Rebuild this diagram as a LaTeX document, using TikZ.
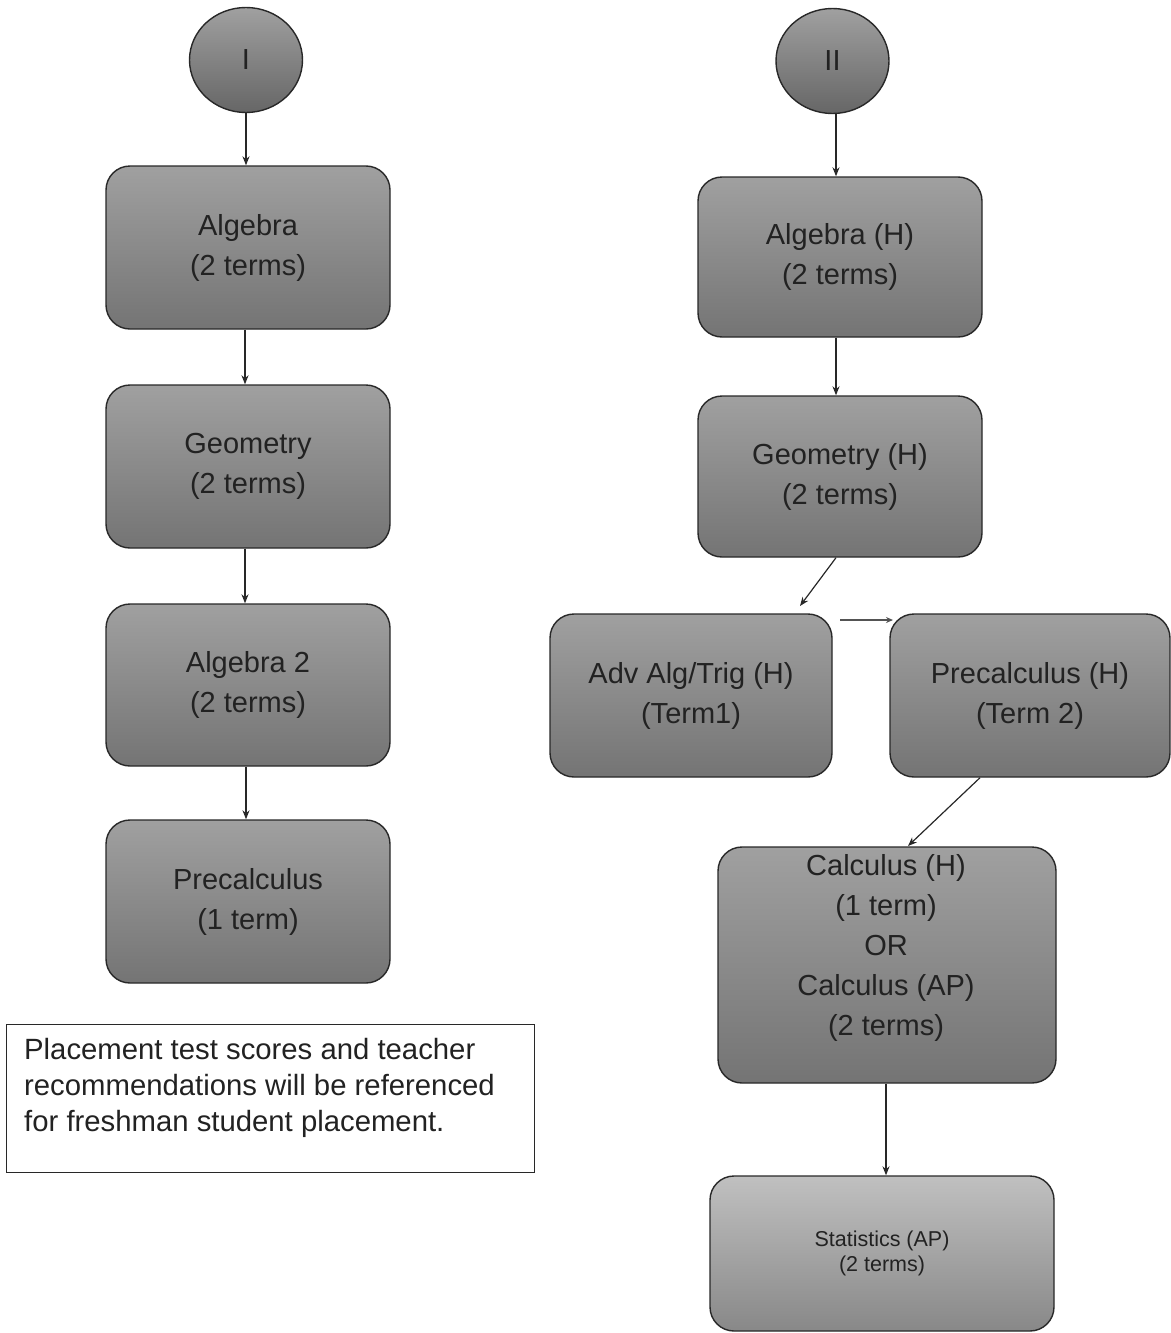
\documentclass[tikz,border=0pt]{standalone}
\usepackage{fontspec}
\setmainfont{Liberation Sans}
\usetikzlibrary{arrows.meta,shapes.geometric,calc}
\definecolor{boxtop}{RGB}{160,160,160}
\definecolor{boxbot}{RGB}{116,116,116}
\definecolor{stattop}{RGB}{192,192,192}
\definecolor{statbot}{RGB}{136,136,136}
\definecolor{txt}{RGB}{34,34,34}
\definecolor{edge}{RGB}{40,40,40}
\begin{document}
\begin{tikzpicture}[x=1pt,y=-1pt,
  box/.style={draw=edge,line width=1.4pt,rounded corners=24pt,top color=boxtop,bottom color=boxbot,
    minimum width=#1,align=center,text=txt,font=\fontsize{29}{40}\selectfont,inner sep=0pt,
    execute at begin node={\vspace*{6pt}}},
  box/.default=284pt,
  circ/.style={ellipse,draw=edge,line width=1.4pt,top color=boxtop,bottom color=boxbot!110,
    minimum width=113pt,minimum height=105pt,inner sep=0pt,text=txt,font=\fontsize{29}{34}\selectfont},
  arr/.style={draw=edge,line width=1.2pt,-{Stealth[length=9pt,width=7pt]}},
  lbl/.style={align=center,text=txt,font=\fontsize{29}{40}\selectfont,inner sep=0pt}]
\useasboundingbox (0,0) rectangle (1170,1333);
% left column
\node[circ] (I) at (246,60) {I};
\node[box,minimum height=163pt] (alg) at (248,247.5) {Algebra\\(2 terms)};
\node[box,minimum height=163pt] (geo) at (248,466.5) {Geometry\\(2 terms)};
\node[box,minimum height=162pt] (alg2) at (248,685) {Algebra 2\\(2 terms)};
\node[box,minimum height=163pt] (pre) at (248,901.5) {Precalculus\\(1 term)};
\draw[arr] (I.south) -- (I.south |- alg.north);
\draw[arr] ($(alg.south)+(-3,0)$) -- ($(geo.north)+(-3,0)$);
\draw[arr] ($(geo.south)+(-3,0)$) -- ($(alg2.north)+(-3,0)$);
\draw[arr] ($(alg2.south)+(-2,0)$) -- ($(pre.north)+(-2,0)$);
\node[draw=edge,line width=1pt,fill=white,minimum width=528pt,minimum height=148pt,inner sep=0pt] (note) at (270,1098) {};
\node[anchor=north west,align=left,text=txt,font=\fontsize{29.3}{36}\selectfont,inner sep=0pt] (notetxt) at (24,1038)
  {Placement test scores and teacher\\recommendations will be referenced\\for freshman student placement.};
% right column
\node[circ] (II) at (832.5,61) {II};
\node[box,minimum height=160pt] (algH) at (840,257) {Algebra (H)\\(2 terms)};
\node[box,minimum height=161pt] (geoH) at (840,476.5) {Geometry (H)\\(2 terms)};
\node[box,minimum width=282pt,minimum height=163pt] (adv) at (691,695.5) {Adv Alg/Trig (H)\\(Term1)};
\node[box,minimum width=280pt,minimum height=163pt] (preH) at (1030,695.5) {Precalculus (H)\\(Term 2)};
\node[box,minimum width=338pt,minimum height=236pt] (calc) at (887,965) {};
\node[lbl] (calctxt) at (886,948) {Calculus (H)\\(1 term)\\OR\\Calculus (AP)\\(2 terms)};
\node[box,minimum width=344pt,minimum height=155pt,top color=stattop,bottom color=statbot,
  font=\fontsize{21.5}{25}\selectfont] (stat) at (882,1253.5) {Statistics (AP)\\(2 terms)};
\draw[arr] ($(II.south)+(3.5,0)$) -- ($(algH.north)+(-4,0)$);
\draw[arr] ($(algH.south)+(-4,0)$) -- ($(geoH.north)+(-4,0)$);
\coordinate (e1) at (800,606);
\draw[arr] ($(geoH.south)+(-4,0)$) -- (e1);
\coordinate (f1) at (840,620);
\coordinate (f2) at (893,620);
\draw[draw=edge!80,line width=1.2pt,-{Stealth[length=7pt,width=6pt]}] (f1) -- (f2);
\coordinate (e2) at (908,846);
\draw[arr] ($(preH.south)+(-50,0)$) -- (e2);
\draw[arr] ($(calc.south)+(-1,0)$) -- ($(stat.north)+(4,0)$);
\end{tikzpicture}
\end{document}
